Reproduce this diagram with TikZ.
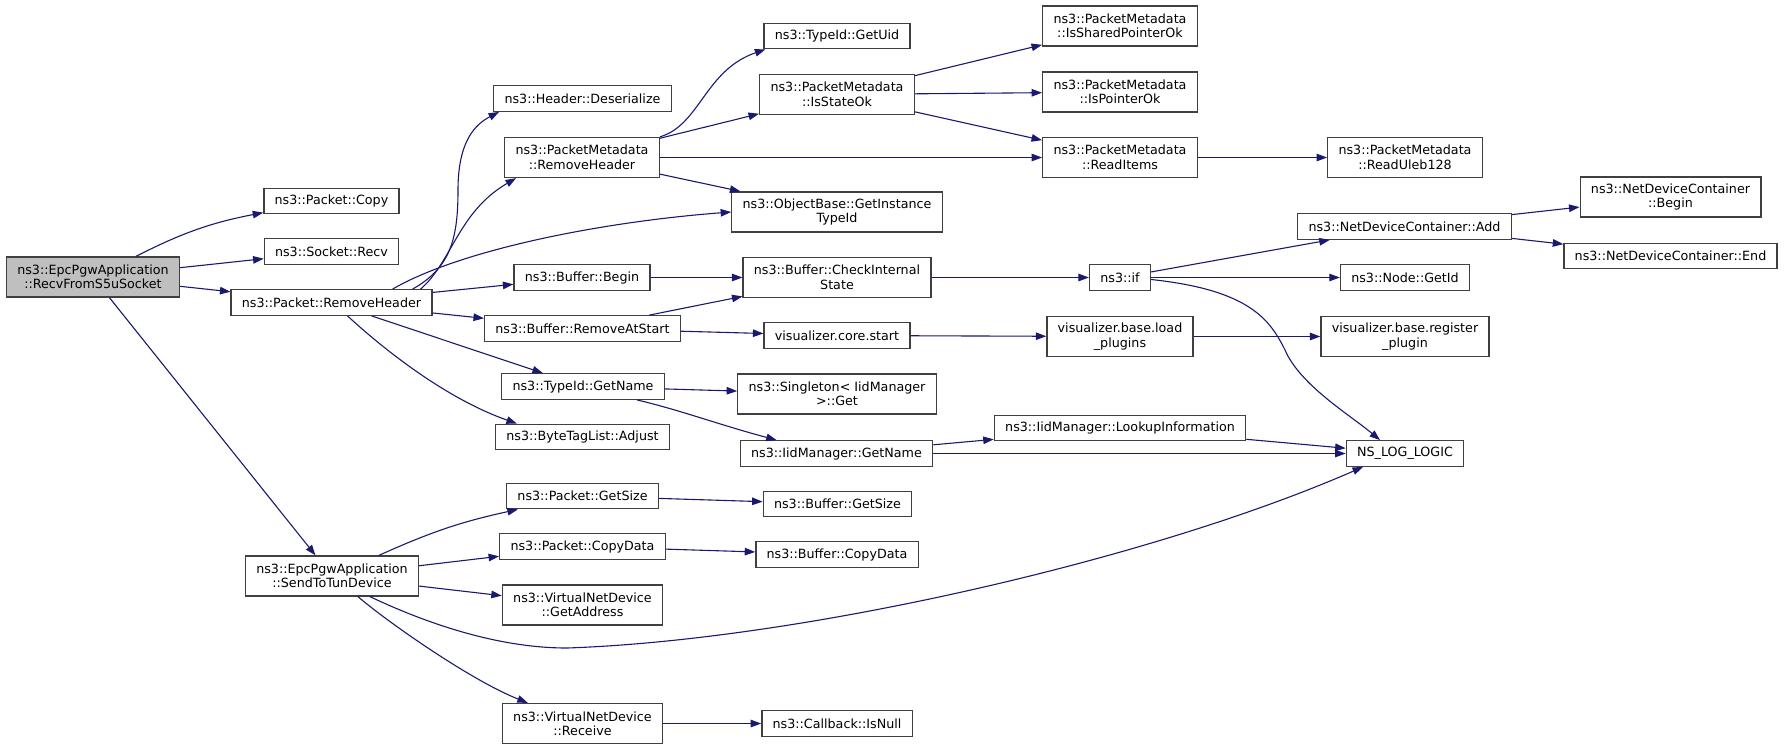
\documentclass[tikz,border=0pt]{standalone}
\usepackage{fontspec}
\setmainfont{DejaVu Sans}
\usetikzlibrary{arrows.meta}

\definecolor{callblue}{RGB}{25,25,112}
\definecolor{boxline}{RGB}{64,64,64}

\begin{document}
\begin{tikzpicture}[x=1pt,y=-1pt,
            fn/.style={rectangle, draw=boxline, line width=1.3pt, fill=white, inner xsep=10.8pt, inner ysep=0pt, minimum height=25.5pt, align=center, font=\fontsize{12.7}{14.5}\selectfont},
            fn2/.style={fn, minimum height=40pt},
            call/.style={-{Triangle[length=10.5pt,width=7.5pt]}, draw=callblue, line width=1.1pt}
        ]
            \useasboundingbox (0,0) rectangle (1784,748);
            \node[fn2, fill=black!25] (root) at (93,277) {ns3::EpcPgwApplication\\::RecvFromS5uSocket};
            \node[fn] (pcopy) at (331.5,201) {ns3::Packet::Copy};
            \node[fn] (srecv) at (331.5,251.5) {ns3::Socket::Recv};
            \node[fn] (prmh) at (331.5,302.5) {ns3::Packet::RemoveHeader};
            \node[fn2] (totun) at (332,576) {ns3::EpcPgwApplication\\::SendToTunDevice};
            \node[fn] (hdeser) at (582.5,98.5) {ns3::Header::Deserialize};
            \node[fn2] (pmrmh) at (582,157.5) {ns3::PacketMetadata\\::RemoveHeader};
            \node[fn] (bbegin) at (582,277.5) {ns3::Buffer::Begin};
            \node[fn] (brmstart) at (582.5,328.5) {ns3::Buffer::RemoveAtStart};
            \node[fn] (tgetname) at (583,386.5) {ns3::TypeId::GetName};
            \node[fn] (btladj) at (582.5,437) {ns3::ByteTagList::Adjust};
            \node[fn] (pgetsize) at (582.5,496) {ns3::Packet::GetSize};
            \node[fn] (pcopyd) at (582.5,546.5) {ns3::Packet::CopyData};
            \node[fn2] (vgetaddr) at (582.5,605) {ns3::VirtualNetDevice\\::GetAddress};
            \node[fn2] (vrecv) at (582.5,723.5) {ns3::VirtualNetDevice\\::Receive};
            \node[fn] (getuid) at (837,36) {ns3::TypeId::GetUid};
            \node[fn2] (stateok) at (837,94.5) {ns3::PacketMetadata\\::IsStateOk};
            \node[fn2] (insttid) at (837,212) {ns3::ObjectBase::GetInstance\\TypeId};
            \node[fn2] (chkint) at (837,277.5) {ns3::Buffer::CheckInternal\\State};
            \node[fn] (vcstart) at (837,335.5) {visualizer.core.start};
            \node[fn2] (singget) at (837,394) {ns3::Singleton< IidManager\\>::Get};
            \node[fn] (iidgetname) at (836.5,453.5) {ns3::IidManager::GetName};
            \node[fn] (bgetsize) at (837.5,504) {ns3::Buffer::GetSize};
            \node[fn] (bcopyd) at (837,554.5) {ns3::Buffer::CopyData};
            \node[fn] (isnull) at (837,723.5) {ns3::Callback::IsNull};
            \node[fn2] (sharedok) at (1120,26) {ns3::PacketMetadata\\::IsSharedPointerOk};
            \node[fn2] (ptrok) at (1120,92) {ns3::PacketMetadata\\::IsPointerOk};
            \node[fn2] (readitems) at (1120,157.5) {ns3::PacketMetadata\\::ReadItems};
            \node[fn] (nsif) at (1120,277.5) {ns3::if};
            \node[fn2] (loadplug) at (1120,336.5) {visualizer.base.load\\\_plugins};
            \node[fn] (lookup) at (1120,428) {ns3::IidManager::LookupInformation};
            \node[fn2] (uleb) at (1405,157.5) {ns3::PacketMetadata\\::ReadUleb128};
            \node[fn] (ndcadd) at (1404.5,226.5) {ns3::NetDeviceContainer::Add};
            \node[fn] (getid) at (1405,277.5) {ns3::Node::GetId};
            \node[fn2] (regplug) at (1405,336.5) {visualizer.base.register\\\_plugin};
            \node[fn] (nslog) at (1405,453.5) {NS\_LOG\_LOGIC};
            \node[fn2] (ndcbegin) at (1670.5,197) {ns3::NetDeviceContainer\\::Begin};
            \node[fn] (ndcend) at (1670.5,256) {ns3::NetDeviceContainer::End};
            \foreach \a/\b in {root/srecv, root/prmh, root/totun, prmh/bbegin, prmh/brmstart, prmh/tgetname,
                    pmrmh/stateok, pmrmh/readitems, pmrmh/insttid, stateok/sharedok, stateok/ptrok, stateok/readitems,
                    readitems/uleb, bbegin/chkint, brmstart/chkint, brmstart/vcstart, chkint/nsif, vcstart/loadplug,
                    loadplug/regplug, nsif/ndcadd, nsif/getid, ndcadd/ndcbegin, ndcadd/ndcend, tgetname/singget,
                    iidgetname/lookup, iidgetname/nslog, lookup/nslog, totun/pcopyd, totun/vgetaddr,
                    pgetsize/bgetsize, pcopyd/bcopyd, vrecv/isnull}
                \draw[call] (\a) -- (\b);
            \draw[call] (root) to[bend left=8] (pcopy);
            \draw[call] (totun) to[bend left=6] (pgetsize);
            \draw[call] ([xshift=-20pt]prmh.north east) .. controls (450,268) and (458,240) .. (458,190)
                .. controls (458,140) and (476,124) .. ([xshift=6pt]hdeser.south west);
            \draw[call] ([xshift=-12pt]prmh.north east) .. controls (452,262) and (458,212) .. ([xshift=12pt]pmrmh.south west);
            \draw[call] ([xshift=-40pt]prmh.north east) .. controls (460,250) and (600,222) .. (insttid.west);
            \draw[call] (pmrmh.north east) .. controls (700,125) and (705,70) .. ([xshift=2pt]getuid.south west);
            \draw[call] ([xshift=16pt]prmh.south) .. controls (390,355) and (450,400) .. ([xshift=22pt]btladj.north west);
            \draw[call] ([xshift=-28pt]tgetname.south east) .. controls (680,410) and (720,425) .. ([xshift=37pt]iidgetname.north west);
            \draw[call] ([yshift=-2pt]nsif.east) .. controls (1250,290) and (1270,320) .. (1285,350)
                .. controls (1300,385) and (1350,415) .. ([xshift=-25pt]nslog.north);
            \draw[call] ([xshift=38pt]totun.south) .. controls (430,625) and (500,648) .. (567,648)
                .. controls (800,640) and (1150,560) .. ([xshift=-42pt]nslog.south);
            \draw[call] ([xshift=26pt]totun.south) .. controls (385,620) and (470,680) .. ([xshift=26pt]vrecv.north west);
        \end{tikzpicture}
\end{document}
